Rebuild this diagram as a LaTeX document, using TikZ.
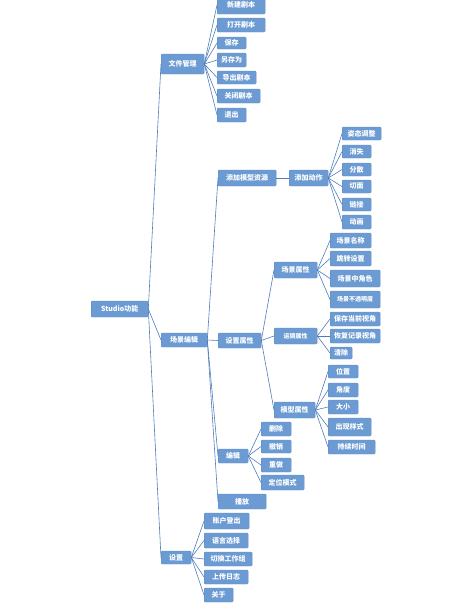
\documentclass[tikz,border=0pt]{standalone}
\usepackage{fontspec}
\setmainfont{Noto Sans CJK SC}
\usepackage{tikz}
\usetikzlibrary{positioning}
\definecolor{boxblue}{HTML}{6B9BD2}
\definecolor{boxline}{HTML}{5F8CC6}
\definecolor{linkblue}{HTML}{4F7DBA}

\begin{document}
\begin{tikzpicture}[x=1pt,y=-1pt,
      box/.style={fill=boxblue,draw=boxline,line width=0.3pt,rounded corners=1pt,
                  text=white,font=\fontsize{7}{8}\selectfont\bfseries,
                  inner sep=0pt,anchor=west,align=center},
      small/.style={font=\fontsize{6}{7}\selectfont\bfseries},
      link/.style={draw=linkblue,line width=0.6pt}]
    \useasboundingbox (0,0) rectangle (471,606);

    % root
    \node[box,minimum width=57,minimum height=16] (root) at (91,309) {Studio功能};

    % file management
    \node[box,minimum width=43,minimum height=20] (file) at (161,64) {文件管理};
    \node[box,minimum width=48,minimum height=18] (fnew) at (217,5) {新建剧本};
    \node[box,minimum width=48,minimum height=14] (fopen) at (217,25) {打开剧本};
    \node[box,minimum width=29,minimum height=12] (fsave) at (217,43) {保存};
    \node[box,minimum width=29,minimum height=14] (fsaveas) at (217,60) {另存为};
    \node[box,minimum width=39,minimum height=13] (fexport) at (217,77.5) {导出剧本};
    \node[box,minimum width=43,minimum height=14] (fclose) at (217,96) {关闭剧本};
    \node[box,minimum width=29,minimum height=14] (fquit) at (217,115) {退出};
    \foreach \n in {fnew,fopen,fsave,fsaveas,fexport,fclose,fquit}
      \draw[link] (file.east) -- (\n.west);

    % scene editing
    \node[box,minimum width=46,minimum height=14] (scene) at (161,340) {场景编辑};
    \node[box,minimum width=58,minimum height=16] (addmodel) at (218,178) {添加模型资源};
    \node[box,minimum width=39,minimum height=16] (addact) at (289,178) {添加动作};
    \node[box,minimum width=39,minimum height=13] (apose) at (342,133.5) {姿态调整};
    \node[box,minimum width=29,minimum height=13] (avanish) at (342,151.5) {消失};
    \node[box,minimum width=29,minimum height=13] (ascatter) at (342,169.5) {分散};
    \node[box,minimum width=29,minimum height=13] (acut) at (342,186.5) {切面};
    \node[box,minimum width=29,minimum height=13] (alink) at (342,204.5) {链接};
    \node[box,minimum width=29,minimum height=14] (aanim) at (342,222) {动画};
    \draw[link] (addmodel.east) -- (addact.west);
    \foreach \n in {apose,avanish,ascatter,acut,alink,aanim}
      \draw[link] (addact.east) -- (\n.west);

    \node[box,minimum width=43,minimum height=15] (attr) at (218,340.5) {设置属性};
    \node[box,minimum width=43,minimum height=16] (sattr) at (274,270) {场景属性};
    \node[box,minimum width=41,minimum height=15] (sname) at (330,240.5) {场景名称};
    \node[box,minimum width=41,minimum height=15] (sjump) at (330,258.5) {跳转设置};
    \node[box,minimum width=50,minimum height=17] (srole) at (330,278.5) {场景中角色};
    \node[box,small,minimum width=50,minimum height=17] (sopac) at (330,299.5) {场景不透明度};
    \foreach \n in {sname,sjump,srole,sopac}
      \draw[link] (sattr.east) -- (\n.west);

    \node[box,small,minimum width=43,minimum height=16] (cam) at (274,336) {运镜属性};
    \node[box,minimum width=50,minimum height=14] (csave) at (330,319) {保存当前视角};
    \node[box,minimum width=50,minimum height=14] (cback) at (330,336) {恢复记录视角};
    \node[box,minimum width=22,minimum height=12] (cclear) at (330,353) {清除};
    \foreach \n in {csave,cback,cclear}
      \draw[link] (cam.east) -- (\n.west);

    \node[box,minimum width=41,minimum height=16] (mattr) at (274,410) {模型属性};
    \node[box,minimum width=30,minimum height=13] (mpos) at (328,371.5) {位置};
    \node[box,minimum width=30,minimum height=14] (mangle) at (328,390) {角度};
    \node[box,minimum width=30,minimum height=14] (msize) at (328,407) {大小};
    \node[box,minimum width=43,minimum height=18] (mstyle) at (328,427) {出现样式};
    \node[box,minimum width=47,minimum height=14] (mtime) at (328,447) {持续时间};
    \foreach \n in {mpos,mangle,msize,mstyle,mtime}
      \draw[link] (mattr.east) -- (\n.west);
    \foreach \n in {sattr,cam,mattr}
      \draw[link] (attr.east) -- (\n.west);

    \node[box,minimum width=30,minimum height=14] (edit) at (218,456) {编辑};
    \node[box,minimum width=30,minimum height=14] (edel) at (261,429) {删除};
    \node[box,minimum width=30,minimum height=13] (eundo) at (261,446.5) {撤销};
    \node[box,minimum width=30,minimum height=14] (eredo) at (261,465) {重做};
    \node[box,minimum width=43,minimum height=15] (elocate) at (261,482.5) {定位模式};
    \foreach \n in {edel,eundo,eredo,elocate}
      \draw[link] (edit.east) -- (\n.west);

    \node[box,minimum width=48,minimum height=15] (play) at (218,501.5) {播放};
    \foreach \n in {addmodel,attr,edit,play}
      \draw[link] (scene.east) -- (\n.west);

    % settings
    \node[box,minimum width=30,minimum height=13] (setup) at (161,557.5) {设置};
    \node[box,minimum width=45,minimum height=16] (slogout) at (204,521) {账户登出};
    \node[box,minimum width=44,minimum height=15] (slang) at (204,540.5) {语言选择};
    \node[box,minimum width=48,minimum height=14] (sgroup) at (204,559) {切换工作组};
    \node[box,minimum width=44,minimum height=14] (slog) at (204,577) {上传日志};
    \node[box,minimum width=29,minimum height=14] (sabout) at (204,595) {关于};
    \foreach \n in {slogout,slang,sgroup,slog,sabout}
      \draw[link] (setup.east) -- (\n.west);

    \foreach \n in {file,scene,setup}
      \draw[link] (root.east) -- (\n.west);
  \end{tikzpicture}
\end{document}
